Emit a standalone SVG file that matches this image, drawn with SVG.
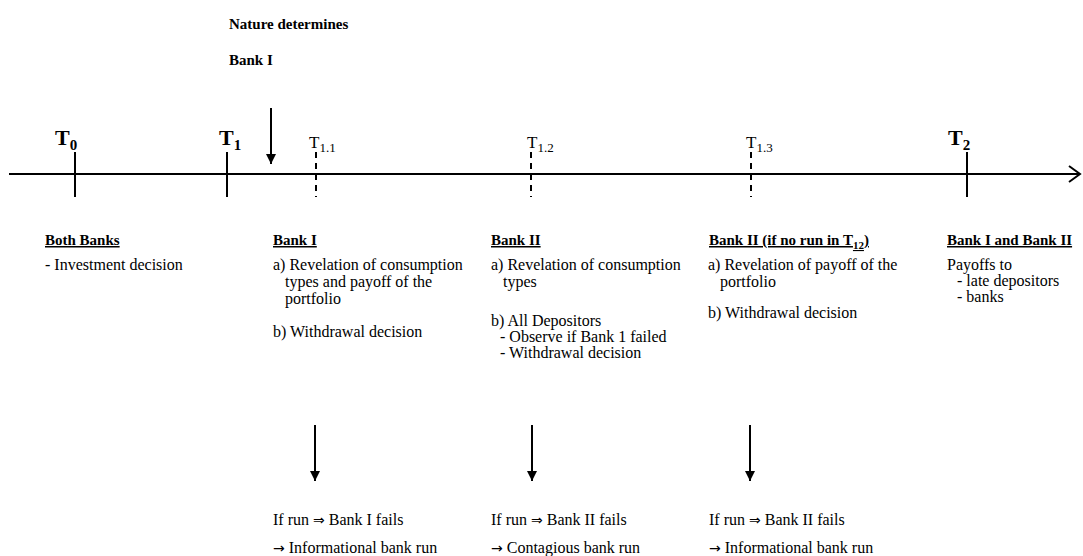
<svg xmlns="http://www.w3.org/2000/svg" width="1083" height="556" viewBox="0 0 1083 556" font-family="'Liberation Serif', Tinos, 'Times New Roman', 'DejaVu Serif', serif">
<defs>
<style>
text{font-family:'Liberation Serif', Tinos, 'Times New Roman', 'DejaVu Serif', serif;fill:#000;}
.b{font-size:15px;font-weight:bold;}
.t{font-size:16px;}
.h{font-size:15px;font-weight:bold;text-decoration:underline;}
.big{font-size:22px;font-weight:bold;}
.bigs{font-size:15px;font-weight:bold;}
.mid{font-size:17px;}
.mids{font-size:13px;}
.sym{font-family:'DejaVu Sans', sans-serif;font-size:14px;}
.ln{stroke:#000;stroke-width:2;fill:none;}
.dash{stroke:#000;stroke-width:2;stroke-dasharray:6,5;fill:none;}
</style>
<marker id="ah" viewBox="0 0 10 10" refX="10" refY="5" markerWidth="5" markerHeight="5" orient="auto" markerUnits="strokeWidth">
<path d="M0,0 L10,5 L0,10 z" fill="#000"/>
</marker>
</defs>
<rect width="1083" height="556" fill="#fff"/>
<g id="connectors">
<line class="ln" x1="9" y1="174" x2="1079" y2="174"/>
<polyline class="ln" points="1069,166 1080,174 1069,182"/>
<line class="ln" x1="75" y1="152" x2="75" y2="197"/>
<line class="ln" x1="227" y1="152" x2="227" y2="197"/>
<line class="ln" x1="967" y1="152" x2="967" y2="197"/>
<line class="dash" x1="316" y1="152" x2="316" y2="197"/>
<line class="dash" x1="531" y1="152" x2="531" y2="197"/>
<line class="dash" x1="751" y1="152" x2="751" y2="197"/>
<line class="ln" x1="271" y1="108" x2="271" y2="164" marker-end="url(#ah)"/>
<line class="ln" x1="315" y1="425" x2="315" y2="481" marker-end="url(#ah)"/>
<line class="ln" x1="532" y1="425" x2="532" y2="481" marker-end="url(#ah)"/>
<line class="ln" x1="750" y1="425" x2="750" y2="481" marker-end="url(#ah)"/>
</g>
<g id="nature">
<text class="b" x="229" y="29">Nature determines</text>
<text class="b" x="229" y="65">Bank I</text>
</g>
<g id="T0"><text class="big" x="55" y="145">T<tspan class="bigs" dy="5">0</tspan></text></g>
<g id="T1"><text class="big" x="219" y="145">T<tspan class="bigs" dy="5">1</tspan></text></g>
<g id="T2"><text class="big" x="948" y="145">T<tspan class="bigs" dy="5">2</tspan></text></g>
<g id="T11"><text class="mid" x="309" y="148">T<tspan class="mids" dy="4">1.1</tspan></text></g>
<g id="T12"><text class="mid" x="527" y="148">T<tspan class="mids" dy="4">1.2</tspan></text></g>
<g id="T13"><text class="mid" x="746" y="148">T<tspan class="mids" dy="4">1.3</tspan></text></g>
<g id="both-banks">
<text class="h" x="45" y="245">Both Banks</text>
<text class="t" x="45" y="270">- Investment decision</text>
</g>
<g id="bank1">
<text class="h" x="273" y="245">Bank I</text>
<text class="t" x="273" y="270">a) Revelation of consumption</text>
<text class="t" x="285" y="287">types and payoff of the</text>
<text class="t" x="285" y="304">portfolio</text>
<text class="t" x="273" y="337">b)  Withdrawal decision</text>
</g>
<g id="bank2">
<text class="h" x="491" y="245">Bank II</text>
<text class="t" x="491" y="270">a) Revelation of consumption</text>
<text class="t" x="503" y="287">types</text>
<text class="t" x="491" y="326">b) All Depositors</text>
<text class="t" x="500" y="342">- Observe if Bank 1 failed</text>
<text class="t" x="500" y="358">- Withdrawal decision</text>
</g>
<g id="bank2-norun">
<text class="h" x="709" y="245">Bank II (if no run in T<tspan font-size="11" dy="4">12</tspan><tspan dy="-4">)</tspan></text>
<text class="t" x="708" y="270">a) Revelation of payoff of the</text>
<text class="t" x="720" y="287">portfolio</text>
<text class="t" x="708" y="318">b)  Withdrawal decision</text>
</g>
<g id="bank-both-T2">
<text class="h" x="947" y="245">Bank I and Bank II</text>
<text class="t" x="947" y="270">Payoffs to</text>
<text class="t" x="957" y="286">- late depositors</text>
<text class="t" x="957" y="302">-  banks</text>
</g>
<g id="out1">
<text class="t" x="273" y="525">If run <tspan class="sym">⇒</tspan> Bank I fails</text>
<text class="t" x="273" y="553"><tspan class="sym">→</tspan> Informational bank run</text>
</g>
<g id="out2">
<text class="t" x="491" y="525">If run <tspan class="sym">⇒</tspan> Bank II fails</text>
<text class="t" x="491" y="553"><tspan class="sym">→</tspan> Contagious bank run</text>
</g>
<g id="out3">
<text class="t" x="709" y="525">If run <tspan class="sym">⇒</tspan> Bank II fails</text>
<text class="t" x="709" y="553"><tspan class="sym">→</tspan> Informational bank run</text>
</g>
</svg>
